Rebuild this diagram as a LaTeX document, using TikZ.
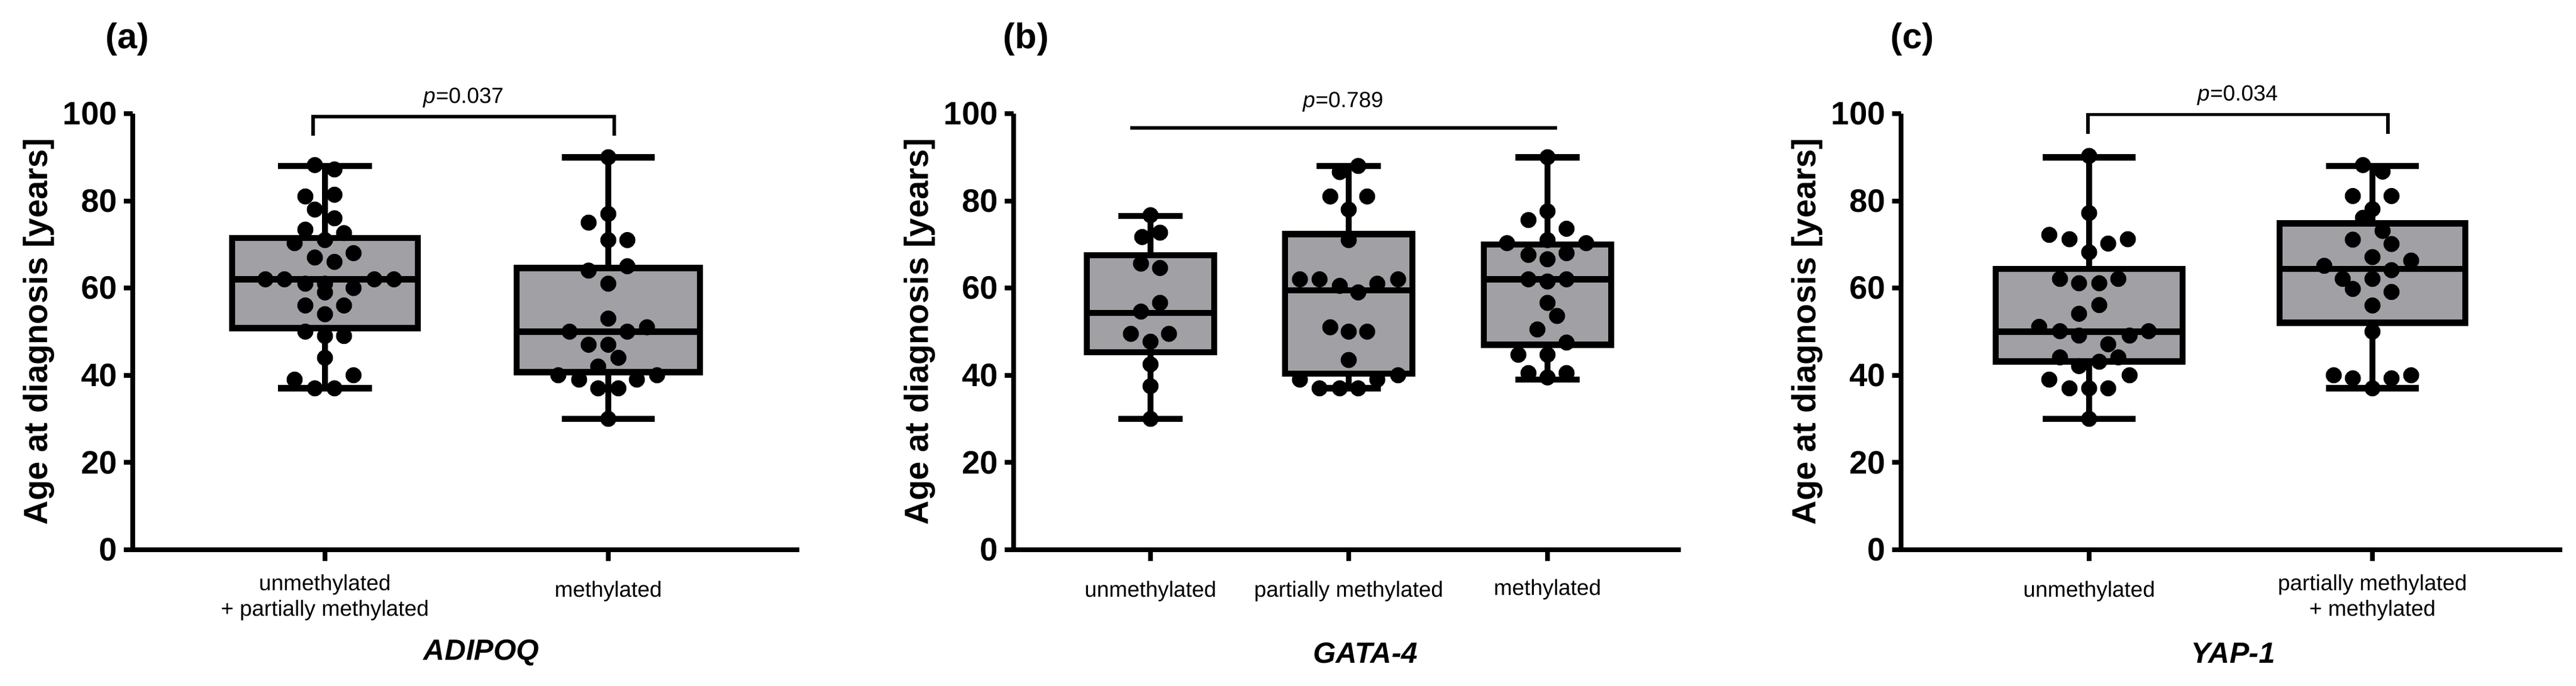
\documentclass[tikz,border=0pt]{standalone}
\usepackage{fontspec}
\setmainfont{Liberation Sans}
\usetikzlibrary{positioning}

\tikzset{
  axisline/.style={line width=4.5pt},
  boxline/.style={line width=6pt},
  bracket/.style={line width=3.2pt},
  dot/.style={fill=black},
  ticklab/.style={font=\fontsize{31}{31}\selectfont\bfseries,anchor=east},
  catlab/.style={font=\fontsize{21}{25}\selectfont,align=center},
  genelab/.style={font=\fontsize{28}{28}\selectfont\bfseries\itshape},
  panellab/.style={font=\fontsize{34}{34}\selectfont\bfseries},
  ylab/.style={font=\fontsize{32}{32}\selectfont\bfseries,rotate=90},
  plab/.style={font=\fontsize{21}{21}\selectfont,anchor=south}
}
% center, half box, half cap, low, q1, median, q3, high
\newcommand{\boxwhisk}[8]{%
  \draw[boxline] (#1,#4) -- (#1,#8);
  \draw[boxline,fill={rgb,255:red,160;green,160;blue,165}] (#1-#2,#5) rectangle (#1+#2,#7);
  \draw[boxline] (#1-#2,#6) -- (#1+#2,#6);
  \draw[boxline] (#1-#3,#4) -- (#1+#3,#4);
  \draw[boxline] (#1-#3,#8) -- (#1+#3,#8);
}
\newcommand{\yaxis}[2]{%
  \draw[axisline] (#1,0) -- (#1,100);
  \draw[axisline] (#1-15,0) -- (#2,0);
  \foreach \t in {0,20,...,100}{
    \draw[axisline] (#1-15,\t) -- (#1,\t);
    \node[ticklab] at (#1-20,\t) {\t};
  }
  \node[ylab] at (#1-158,50) {Age at diagnosis [years]};
}

\begin{document}
\begin{tikzpicture}[x=0.02cm,y=0.1466cm]
\useasboundingbox (0,-31.24) rectangle (4328,126.06);

% (a) ADIPOQ
\node[panellab] (la) at (214,117) {(a)};
\yaxis{223}{1343}
\foreach \c in {546,1022} \draw[axisline] (\c,0) -- (\c,-2.6);
\boxwhisk{546}{156}{79}{37}{50.8}{62}{71.5}{88}
\boxwhisk{1022}{154}{78}{30}{40.7}{50}{64.6}{90}
\foreach \dx/\v in {-17/88.2,16/87.2,-33/81,16/81.4,-17/78,16/76,-33/73.4,32/72.6,-51/70.3,0/71,48/68,-17/67,16/66,-100/62,-68/62,-33/61,0/61,83/62,116/62,48/60,0/59,-33/56,32/56,0/54,-33/50,0/49,32/49,0/44,-51/39,48/40,-17/37,16/37}
  \fill[dot] (546+\dx,\v) circle (0.27cm);
\foreach \dx/\v in {0/90,0/77,-33/75,0/71,32/71,-33/64,32/65,0/61,0/53,-65/50,32/50,65/51,-33/47,0/47,17/44,-17/42,-84/40,-49/39,-17/37,17/37,48/39,82/40,0/30}
  \fill[dot] (1022+\dx,\v) circle (0.27cm);
\coordinate (a1) at (526,95); \coordinate (a2) at (1032,95);
\draw[bracket] (a1) |- (779,99.3) -| (a2);
\node[plab] (pa) at (779,100.5) {\textit{p}=0.037};
\node[catlab] (ca1) at (546,-11) {unmethylated\\+ partially methylated};
\node[catlab] (ca2) at (1022,-9.6) {methylated};
\node[genelab] (ga) at (809,-23.7) {ADIPOQ};

% (b) GATA-4
\node[panellab] (lb) at (1724,117) {(b)};
\yaxis{1703}{2824}
\foreach \c in {1933,2266,2600} \draw[axisline] (\c,0) -- (\c,-2.6);
\boxwhisk{1933}{107}{54}{30}{45.3}{54.3}{67.5}{76.5}
\boxwhisk{2266}{107}{54}{37}{40.4}{59.5}{72.4}{88}
\boxwhisk{2600}{107}{54}{39}{47}{62}{70}{90}
\foreach \dx/\v in {0/76.7,-14/71.7,16/72.7,-16/65.6,16/64.6,16/56.6,-16/54.6,-33/49.5,31/49.5,0/47.7,0/42.5,0/37.5,0/30}
  \fill[dot] (1933+\dx,\v) circle (0.27cm);
\foreach \dx/\v in {16/88,-15/86.6,-31/81,31/81,0/78,0/71,-82/62,-49/62,-15/60.5,16/59,48/61,83/62,-31/51,0/50,31/50,0/43.5,-82/39,-49/37,-15/37,16/37,48/39,83/40}
  \fill[dot] (2266+\dx,\v) circle (0.27cm);
\foreach \dx/\v in {0/90,0/77.6,-32/75.6,32/73.6,-68/70.3,0/71,65/70.3,-32/67.6,32/68,0/66.6,-32/62,32/62,0/61.5,0/56.6,16/53.6,-17/50.5,32/47.5,-49/44.7,0/44.7,-32/40.5,32/40.5,0/39.5}
  \fill[dot] (2600+\dx,\v) circle (0.27cm);
\coordinate (b1) at (1899,96.7); \coordinate (b2) at (2616,96.7);
\draw[bracket] (b1) -- (b2);
\node[plab] (pb) at (2257,99.6) {\textit{p}=0.789};
\node[catlab] (cb1) at (1933,-9.6) {unmethylated};
\node[catlab] (cb2) at (2266,-9.6) {partially methylated};
\node[catlab] (cb3) at (2600,-9.2) {methylated};
\node[genelab] (gb) at (2294,-23.7) {GATA-4};

% (c) YAP-1
\node[panellab] (lc) at (3213,117) {(c)};
\yaxis{3194}{4305}
\foreach \c in {3510,3986} \draw[axisline] (\c,0) -- (\c,-2.6);
\boxwhisk{3510}{157}{78}{30}{43.2}{50}{64.4}{90}
\boxwhisk{3986}{156}{78}{37}{52}{64.4}{74.8}{88}
\foreach \dx/\v in {0/90.3,0/77.2,-67/72.2,-33/71.2,32/70.2,65/71.2,0/68.2,-49/62.1,-17/61.1,17/61.1,49/62.1,17/56.1,-17/54.1,-84/51.1,-49/50.1,-17/49.1,68/49.1,100/50.1,32/47.1,-49/44.1,49/44.1,17/43.1,-17/42.1,-67/39,68/40,-33/37,0/37,32/37,0/30}
  \fill[dot] (3510+\dx,\v) circle (0.27cm);
\foreach \dx/\v in {-16/88.2,17/86.7,-33/81.1,32/81.1,0/78.1,-16/76.1,17/73.1,-33/71.1,32/70.1,0/67.1,-81/65.1,65/66.3,32/64.1,-50/62.1,0/62.1,-33/59.8,32/59.1,0/56,0/50,-65/40,-33/39.3,32/39.3,65/40,0/37}
  \fill[dot] (3986+\dx,\v) circle (0.27cm);
\coordinate (c1) at (3508,95.3); \coordinate (c2) at (4012,95.3);
\draw[bracket] (c1) |- (3760,99.8) -| (c2);
\node[plab] (pc) at (3760,101) {\textit{p}=0.034};
\node[catlab] (cc1) at (3510,-9.6) {unmethylated};
\node[catlab] (cc2) at (3986,-11) {partially methylated\\+ methylated};
\node[genelab] (gc) at (3752,-23.7) {YAP-1};
\end{tikzpicture}
\end{document}
